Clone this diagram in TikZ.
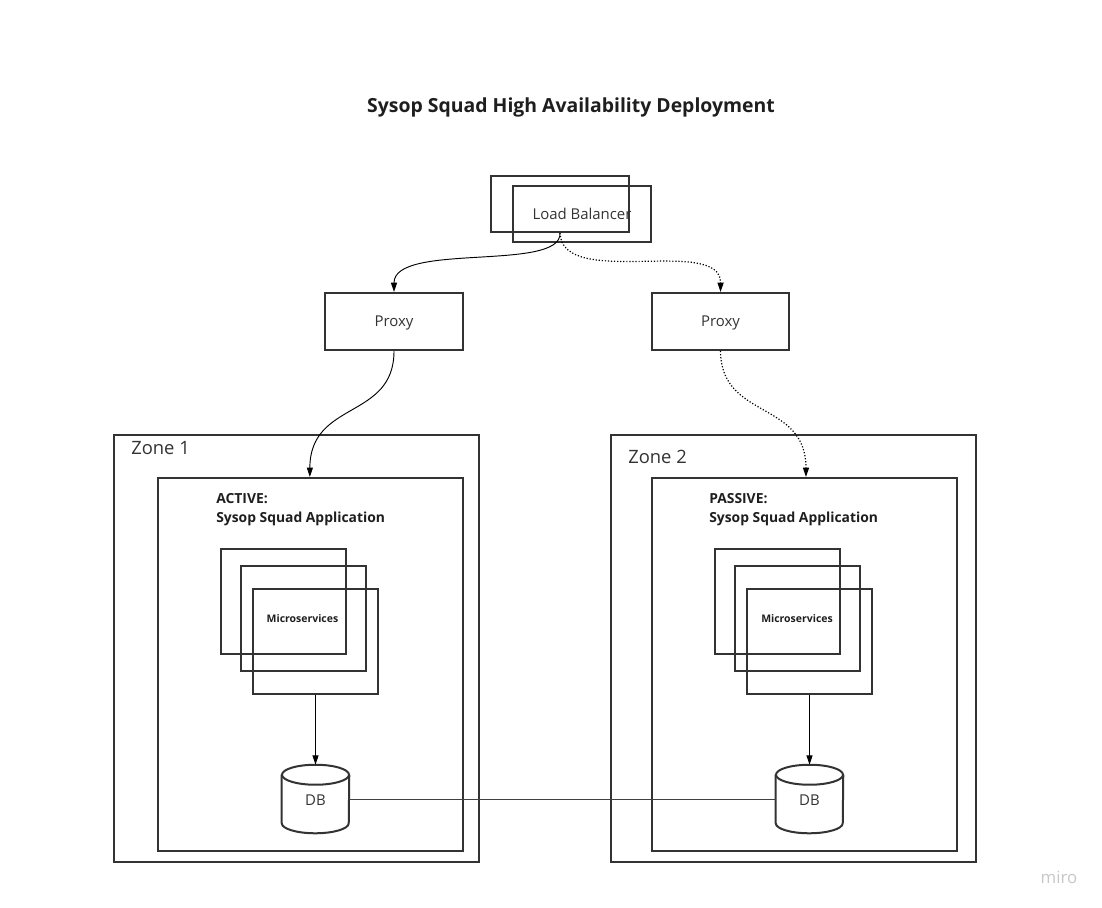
\documentclass[tikz,border=0pt]{standalone}
\usepackage{fontspec}
\setmainfont{Open Sans}
\usetikzlibrary{arrows.meta}
\definecolor{lineC}{HTML}{333333}
\definecolor{txtC}{HTML}{333333}
\definecolor{titleC}{HTML}{1E1E1E}
\tikzset{
  box/.style={draw=lineC, line width=1.5pt, inner sep=0pt, fill=none},
  lbl/.style={text=txtC, inner sep=0pt, font=\fontsize{11.2pt}{13pt}\selectfont},
  conn/.style={draw=black, line width=0.7pt, -{Triangle[length=7pt,width=4.5pt]}},
  dotconn/.style={conn, line width=0.9pt, dash pattern=on 0.9pt off 1.4pt},
  plain/.style={draw=black!75, line width=0.6pt},
  apptxt/.style={text=titleC, inner sep=0, anchor=west, font=\fontsize{10.4pt}{12pt}\selectfont\bfseries},
  zonetxt/.style={text=txtC, inner sep=0, anchor=west, font=\fontsize{13.8pt}{16pt}\selectfont},
  mstxt/.style={text=titleC, inner sep=0, font=\fontsize{7.85pt}{9pt}\selectfont\bfseries},
}
\begin{document}
\begin{tikzpicture}[x=0.75pt,y=-0.75pt]
\useasboundingbox (0,0) rectangle (1102,907);
% title
\node[inner sep=0, text=titleC, font=\fontsize{14.55pt}{17pt}\selectfont\bfseries] (title) at (571,107.5) {Sysop Squad High Availability Deployment};
% load balancer
\node[box, minimum width=103.5pt, minimum height=42pt] (lbback) at (560,204) {};
\node[box, minimum width=103.5pt, minimum height=42pt] (lbfront) at (582,214) {};
\node[lbl] (lbtext) at (582,213.5) {Load Balancer};
% proxies
\node[box, minimum width=103.5pt, minimum height=42.75pt] (proxy1) at (394,321.5) {};
\node[lbl] (p1text) at (394,323) {Proxy};
\node[box, minimum width=102.75pt, minimum height=42.75pt] (proxy2) at (720.5,321.5) {};
\node[lbl] (p2text) at (720.5,323) {Proxy};
% zones
\node[box, minimum width=273.75pt, minimum height=320.25pt] (zone1) at (296.5,648.5) {};
\node[box, minimum width=228.75pt, minimum height=279.75pt] (inner1) at (310.5,664.5) {};
\node[box, minimum width=273.75pt, minimum height=320.25pt] (zone2) at (793.5,648.5) {};
\node[box, minimum width=228.75pt, minimum height=279.75pt] (inner2) at (804.5,664.5) {};
\node[zonetxt] (z1text) at (131,448.5) {Zone 1};
\node[zonetxt] (z2text) at (628,456.5) {Zone 2};
% app labels
\node[apptxt] (a1) at (216,498.5) {ACTIVE:};
\node[apptxt] (a1b) at (216,518.5) {Sysop Squad Application};
\node[apptxt] (a2) at (709,498.5) {PASSIVE:};
\node[apptxt] (a2b) at (709,518.5) {Sysop Squad Application};
% microservices
\node[box, minimum width=93.75pt, minimum height=78.75pt] (ms1a) at (283.5,601.5) {};
\node[box, minimum width=93.75pt, minimum height=78.75pt] (ms1b) at (303,618.5) {};
\node[box, minimum width=93.75pt, minimum height=78.75pt] (ms1c) at (315.5,641.5) {};
\node[mstxt] (ms1t) at (302.5,619) {Microservices};
\node[box, minimum width=93.75pt, minimum height=78.75pt] (ms2a) at (777.5,601.5) {};
\node[box, minimum width=93.75pt, minimum height=78.75pt] (ms2b) at (797.5,618.5) {};
\node[box, minimum width=93.75pt, minimum height=78.75pt] (ms2c) at (809.5,641.5) {};
\node[mstxt] (ms2t) at (797,619) {Microservices};
% databases
\node[inner sep=0, minimum width=50.25pt, minimum height=51pt] (db1) at (315.5,799) {};
\node[inner sep=0, minimum width=50.25pt, minimum height=51pt] (db2) at (809.5,799) {};
\foreach \d in {db1,db2}{
  \draw[draw=lineC, line width=1.5pt] ([yshift=-7.5pt]\d.north west) -- ([yshift=7.5pt]\d.south west)
     arc[start angle=180, end angle=360, x radius=25.125pt, y radius=7.5pt]
     -- ([yshift=-7.5pt]\d.north east);
  \draw[draw=lineC, line width=1.5pt] ([yshift=-7.5pt]\d.north) ellipse[x radius=25.125pt, y radius=7.5pt];
}
\node[lbl] (db1t) at (315.5,800.5) {DB};
\node[lbl] (db2t) at (809.5,800.5) {DB};
% connectors
\draw[conn] (lbback.south) .. controls (562,272) and (394,242) .. (proxy1.north);
\draw[dotconn] (lbback.south) .. controls (562,290) and (721,235) .. (proxy2.north);
\draw[conn] (proxy1.south) .. controls (394,420) and (310,400) .. ([xshift=-0.5pt]inner1.north);
\draw[dotconn] (proxy2.south) .. controls (721,420) and (806,400) .. ([xshift=1.1pt]inner2.north);
\draw[conn] (ms1c.south) -- (db1.north);
\draw[conn] (ms2c.south) -- (db2.north);
\draw[plain] (db1.east) -- (db2.west);
% watermark
\node[inner sep=0, text=black!22, font=\fontsize{12.6pt}{14pt}\selectfont] (miro) at (1059,877) {miro};
\end{tikzpicture}
\end{document}
